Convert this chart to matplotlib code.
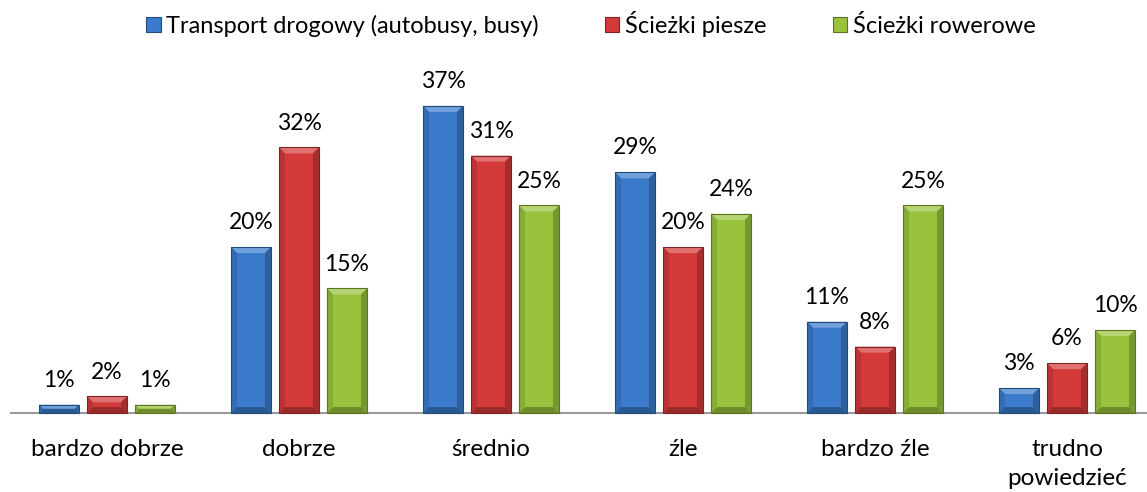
import numpy as np
import matplotlib
matplotlib.use("Agg")
import matplotlib.pyplot as plt
from matplotlib.patches import Polygon, Rectangle
from matplotlib.colors import to_rgb

# Survey answers: how respondents rate each type of infrastructure
categories = ["bardzo dobrze", "dobrze", "średnio", "źle", "bardzo źle", "trudno\npowiedzieć"]
series_names = ["Transport drogowy (autobusy, busy)", "Ścieżki piesze", "Ścieżki rowerowe"]
transport = [1, 20, 37, 29, 11, 3]
piesze = [2, 32, 31, 20, 8, 6]
rowerowe = [1, 15, 25, 24, 25, 10]

colors = ["#3B7BCB", "#D43A3A", "#99C33D"]
FONT = "Lato"

plt.rcParams["font.family"] = [FONT, "DejaVu Sans"]

W, H, DPI = 1147, 492, 100
fig = plt.figure(figsize=(W / DPI, H / DPI), dpi=DPI)
# plot area: baseline at y=413 px, 6 categories of 192 px starting at x=11
ax = fig.add_axes([11 / W, (H - 413) / H, 1152 / W, 332 / H])
ax.set_xlim(-0.5, 5.5)
ax.set_ylim(0, 40)

x = np.arange(len(categories))
pitch = 0.25
width = 0.208
all_series = [transport, piesze, rowerowe]
bars = []
for i, (vals, col) in enumerate(zip(all_series, colors)):
    b = ax.bar(x + (i - 1) * pitch, vals, width=width, color=col,
               edgecolor="none", zorder=2)
    bars.append(b)
    for xi, v in zip(x, vals):
        ax.annotate(f"{v}%", (xi + (i - 1) * pitch, v), xytext=(0, 10),
                    textcoords="offset points", ha="center", va="bottom",
                    fontsize=16.5, color="#000000")

ax.set_xticks(x)
ax.set_xticklabels(categories, fontsize=17.5, linespacing=1.45)
ax.tick_params(axis="x", length=0, pad=19)
ax.set_yticks([])
for s in ["top", "right", "left"]:
    ax.spines[s].set_visible(False)
ax.spines["bottom"].set_color("#9A9A9A")
ax.spines["bottom"].set_linewidth(1.5)
ax.spines["bottom"].set_zorder(4)


def shade(c, f):
    r, g, b = to_rgb(c)
    if f >= 1:
        return tuple(ch + (1 - ch) * (f - 1) for ch in (r, g, b))
    return tuple(ch * f for ch in (r, g, b))


# bevelled look: lighter top facet, darker sides and bottom, drawn in pixels
fig.canvas.draw()
for group, col in zip(bars, colors):
    for p in group:
        bb = p.get_window_extent()
        x0, x1, y0, y1 = bb.x0, bb.x1, bb.y0, bb.y1
        d = min(6.0, (y1 - y0) / 2.0, (x1 - x0) / 2.0)
        xi0, xi1, yi0, yi1 = x0 + d, x1 - d, y0 + d, y1 - d
        facets = [
            ([(x0, y1), (x1, y1), (xi1, yi1), (xi0, yi1)], shade(col, 1.28)),
            ([(x0, y0), (x1, y0), (xi1, yi0), (xi0, yi0)], shade(col, 0.72)),
            ([(x0, y0), (x0, y1), (xi0, yi1), (xi0, yi0)], shade(col, 0.88)),
            ([(x1, y0), (x1, y1), (xi1, yi1), (xi1, yi0)], shade(col, 0.78)),
        ]
        for pts, fc in facets:
            fig.add_artist(Polygon(pts, closed=True, facecolor=fc,
                                   edgecolor="none", transform=None, zorder=3))
        fig.add_artist(Rectangle((x0, y0), x1 - x0, y1 - y0, facecolor="none",
                                 edgecolor=shade(col, 0.6), linewidth=0.8,
                                 transform=None, zorder=3))

# legend with small bevelled squares
handles = [Rectangle((0, 0), 1, 1, facecolor=c, edgecolor=shade(c, 0.6), linewidth=0.8)
           for c in colors]
fig.legend(handles, series_names, loc="center", bbox_to_anchor=(591 / W, 1 - 24 / H),
           ncol=3, frameon=False, fontsize=17, handlelength=0.6, handleheight=0.6,
           handletextpad=0.25, columnspacing=2.8)

fig.savefig("out.png", dpi=DPI)
